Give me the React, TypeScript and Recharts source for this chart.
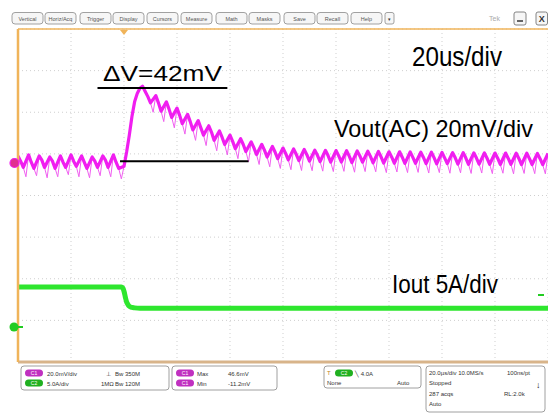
import React from 'react';
import { LineChart, Line, XAxis, YAxis, CartesianGrid, ReferenceLine } from 'recharts';

// Vout (AC), mV from the ch1 ground marker, one sample per microsecond (0..200 us)
const voutMv = [
  3, 0.5, -2.5, -7,
  3.5, 0, -3, -6.5,
  3, 1, -2.5, -7.5,
  2.5, 0.5, -3, -7,
  3, 0, -2.5, -6,
  3.5, 0.5, -2, -7,
  3, 0, -3, -7.5,
  2.5, 0.5, -2.5, -6.5,
  3, 1, -2.5, -7,
  3.5, 0, -3, -8,
  -2, 5, 13, 22, 29, 33, 35.5, 36.5,
  34, 31.5, 28.5, 24,
  32, 28.5, 24.5, 19.5,
  29, 25.5, 21.5, 16.5,
  26, 22.5, 18.5, 13.5,
  23, 19.5, 15.5, 10.5,
  20, 16.5, 13, 8,
  17.5, 14.5, 10.5, 5.5,
  15, 12, 8.5, 3.5,
  13, 10, 6.5, 1.7,
  11.3, 8.5, 5.1, 0.2,
  9.8, 7, 3.7, -1.1,
  8.6, 5.8, 2.5, -2.2,
  7.6, 4.9, 1.7, -3,
  6.8, 4.2, 1.1, -3.6,
  6.4, 3.8, 0.8, -4,
  6.1, 3.6, 0.5, -4.1,
  5.8, 3.3, 0.3, -4.3,
  5.7, 3.2, 0, -4.5,
  5.6, 3.1, 0.1, -4.4,
  5.5, 2.9, -0.2, -4.8,
  5.4, 3, 0, -4.5,
  5.3, 2.8, -0.3, -4.6,
  5.2, 2.6, -0.4, -5,
  5, 2.5, -0.5, -4.7,
  5, 2.4, -0.6, -5,
  4.9, 2.3, -0.5, -4.9,
  4.8, 2.3, -0.7, -5.2,
  4.8, 2.2, -0.8, -5,
  4.7, 2.1, -0.7, -5.3,
  4.6, 2.1, -0.9, -5.1,
  4.6, 2, -1, -5.4,
  4.5, 2, -0.9, -5.2,
  4.5, 1.9, -1, -5.5,
  4.4, 1.9, -1.1, -5.3,
  4.4, 1.8, -1, -5.6,
  4.3, 1.8, -1.2, -5.4,
  4.3, 1.7, -1.1, -5.5,
  4.2, 1.7, -1.2, -5.6,
  4.2,
];

// samples (us) where the thin switching spikes poke out below the ripple band
const spikeTimes = [
  3, 7, 11, 15, 19, 23, 27, 31, 35, 39,
  51, 55, 59, 63, 67, 71, 75, 79, 83, 87, 91, 95, 99, 103, 107, 111, 115, 119,
  123, 127, 131, 135, 139, 143, 147, 151, 155, 159, 163, 167, 171, 175, 179,
  183, 187, 191, 195, 199,
];

// Iout load step, amps
const ioutTimes = [0, 39, 39.5, 40, 40.5, 41, 41.5, 42, 43, 44, 46, 80, 120, 160, 200];
const ioutAmps = [5, 5, 4.9, 4.5, 3.8, 3.2, 2.9, 2.7, 2.55, 2.5, 2.45, 2.45, 2.45, 2.45, 2.45];

// graticule: 10 x 20us horizontally, 8 divisions vertically
const gridTimes = [0, 20, 40, 60, 80, 100, 120, 140, 160, 180, 200];
const gridDivs = [0, 1, 2, 3, 4, 5, 6, 7, 8];
const minorTimes = Array.from({ length: 51 }, (_, i) => i * 4);
const minorDivs = Array.from({ length: 41 }, (_, i) => i * 0.2);

// the two cursor lines drawn for the deltaV note (us, mV)
const deltaTop = { from: 30, to: 79, level: 35.6 };
const deltaBase = { from: 38.5, to: 87, level: 0.5 };

const menuLabels = ['Vertical', 'Horiz/Acq', 'Trigger', 'Display', 'Cursors', 'Measure', 'Math', 'Masks', 'Save', 'Recall', 'Help'];
const menuLefts = [12, 45, 80, 113, 147, 181, 216, 249, 284, 317, 351];

const voutData = voutMv.map((v, i) => ({ t: i, v, band: spikeTimes.includes(i) ? null : v }));
const ioutData = ioutTimes.map((t, i) => ({ t, a: ioutAmps[i] }));

const MAGENTA = '#f01ef0';
const GREEN = '#2ee62e';
const ORANGE = '#f0b45a';
const TAN = '#d8b48a';
const FONT = '"Liberation Sans", Arial, sans-serif';
const NARROW = '"Liberation Sans Narrow", "Liberation Sans", Arial, sans-serif';

const Pill = ({ x, y, color, label }: { x: number; y: number; color: string; label: string }) => (
  <g>
    <rect x={x} y={y} width={18} height={7} rx={3.5} fill={color} />
    <text x={x + 9} y={y + 5.5} fontSize={5} fill="#fff" textAnchor="middle" fontFamily={FONT}>{label}</text>
  </g>
);

const Small = ({ x, y, children }: { x: number; y: number; children: React.ReactNode }) => (
  <text x={x} y={y} fontSize={6} fill="#333" fontFamily={FONT}>{children}</text>
);

const Overlay = () => (
  <svg width={548} height={416} style={{ position: 'absolute', left: 0, top: 0, pointerEvents: 'none' }}>
    {/* menu bar */}
    {menuLabels.map((m, i) => (
      <g key={m}>
        <rect x={menuLefts[i]} y={12.5} width={31} height={11.5} rx={3} fill="#f6f6f6" stroke="#8a8a8a" strokeWidth={0.8} />
        <text x={menuLefts[i] + 15.5} y={20.5} fontSize={5.5} fill="#555" textAnchor="middle" fontFamily={FONT}>{m}</text>
      </g>
    ))}
    <rect x={385} y={12.5} width={9} height={11.5} rx={2} fill="#f6f6f6" stroke="#8a8a8a" strokeWidth={0.8} />
    <text x={389.5} y={20.5} fontSize={5} fill="#333" textAnchor="middle" fontFamily={FONT}>▾</text>
    <text x={489} y={21} fontSize={7} fill="#aaa" fontFamily={FONT}>Tek</text>
    <rect x={514} y={12} width={12} height={13} rx={2} fill="#f6f6f6" stroke="#777" strokeWidth={0.9} />
    <line x1={517} y1={21} x2={523} y2={21} stroke="#333" strokeWidth={1.5} />
    <rect x={536} y={12} width={11.5} height={13} rx={2} fill="#f6f6f6" stroke="#777" strokeWidth={0.9} />
    <text x={541.75} y={22} fontSize={9} fill="#333" textAnchor="middle" fontFamily={FONT} fontWeight="bold">X</text>

    {/* channel and trigger markers */}
    <polygon points="120,30 128,30 124,35" fill={ORANGE} />
    <circle cx={14.5} cy={163} r={4.5} fill="#e0308f" stroke={MAGENTA} strokeWidth={1.2} />
    <circle cx={14} cy={327} r={4.5} fill="#22cc22" />
    <line x1={17} y1={327} x2={23} y2={327} stroke="#22cc22" strokeWidth={2} />
    <line x1={538} y1={295} x2={544} y2={295} stroke="#22cc22" strokeWidth={2} />

    {/* annotations */}
    <text x={103} y={81} fontSize={22} fill="#000" fontFamily={FONT} textLength={119} lengthAdjust="spacingAndGlyphs">ΔV=42mV</text>
    <text x={412} y={66} fontSize={28} fill="#000" fontFamily={NARROW} textLength={90} lengthAdjust="spacingAndGlyphs">20us/div</text>
    <text x={334} y={137} fontSize={24} fill="#000" fontFamily={NARROW} textLength={199} lengthAdjust="spacingAndGlyphs">Vout(AC) 20mV/div</text>
    <text x={392} y={293} fontSize={25} fill="#000" fontFamily={NARROW} textLength={106} lengthAdjust="spacingAndGlyphs">Iout 5A/div</text>

    {/* status bar */}
    <rect x={21} y={366} width={148} height={24} rx={3} fill="#fff" stroke="#888" strokeWidth={0.8} />
    <Pill x={25} y={369.5} color="#c030c0" label="C1" />
    <Small x={47} y={375.5}>20.0mV/div</Small>
    <Small x={106} y={375.5}>⊥</Small>
    <Small x={115} y={375.5}>Bw 350M</Small>
    <Pill x={25} y={379.5} color="#20b020" label="C2" />
    <Small x={47} y={385.5}>5.0A/div</Small>
    <Small x={101} y={385.5}>1MΩ</Small>
    <Small x={115} y={385.5}>Bw 120M</Small>

    <rect x={172} y={366} width={105} height={24} rx={3} fill="#fff" stroke="#888" strokeWidth={0.8} />
    <Pill x={176} y={369.5} color="#c030c0" label="C1" />
    <Small x={197} y={375.5}>Max</Small>
    <Small x={228} y={375.5}>46.6mV</Small>
    <Pill x={176} y={379.5} color="#c030c0" label="C1" />
    <Small x={197} y={385.5}>Min</Small>
    <Small x={228} y={385.5}>-11.2mV</Small>

    <rect x={324} y={366} width={97} height={22} rx={3} fill="#fff" stroke="#888" strokeWidth={0.8} />
    <text x={327} y={375} fontSize={6} fill="#c08020" fontFamily={FONT}>T</text>
    <Pill x={335} y={369.5} color="#20b020" label="C2" />
    <Small x={355} y={375.5}>╲ 4.0A</Small>
    <Small x={327} y={384.5}>None</Small>
    <Small x={397} y={384.5}>Auto</Small>

    <rect x={426} y={366} width={119} height={46} rx={3} fill="#fff" stroke="#888" strokeWidth={0.8} />
    <Small x={429} y={374.5}>20.0µs/div  10.0MS/s</Small>
    <Small x={507} y={374.5}>100ns/pt</Small>
    <Small x={429} y={385}>Stopped</Small>
    <text x={536} y={388} fontSize={9} fill="#222" fontFamily={FONT} fontWeight="bold">↓</text>
    <Small x={429} y={395.5}>287 acqs</Small>
    <Small x={504} y={395.5}>RL:2.0k</Small>
    <Small x={429} y={406}>Auto</Small>
  </svg>
);

export default function App() {
  return (
    <div style={{ position: 'absolute', left: 0, top: 0, width: 548, height: 416, background: '#fff' }}>
      <LineChart width={548} height={416} margin={{ top: 29, right: 0, bottom: 54, left: 18 }}>
        <XAxis xAxisId="main" dataKey="t" type="number" domain={[0, 200]} ticks={gridTimes} allowDataOverflow hide />
        <YAxis yAxisId="grid" type="number" domain={[0, 8]} ticks={gridDivs} allowDataOverflow hide />
        <YAxis yAxisId="v" type="number" domain={[-96, 64]} allowDataOverflow hide />
        <YAxis yAxisId="i" type="number" domain={[-4, 36]} allowDataOverflow hide />
        <CartesianGrid xAxisId="main" yAxisId="grid" stroke="#cfcfcf" strokeDasharray="1 3" />

        <XAxis xAxisId="top" orientation="top" mirror type="number" domain={[0, 200]} ticks={minorTimes} interval={0}
          allowDataOverflow axisLine={{ stroke: ORANGE, strokeWidth: 1.5 }} tickLine={{ stroke: ORANGE }} tickSize={3} tick={false} />
        <XAxis xAxisId="bot" orientation="bottom" mirror type="number" domain={[0, 200]} ticks={minorTimes} interval={0}
          allowDataOverflow axisLine={{ stroke: TAN, strokeWidth: 3 }} tickLine={{ stroke: TAN }} tickSize={4} tick={false} />
        <YAxis yAxisId="frame" orientation="left" mirror type="number" domain={[0, 8]} ticks={minorDivs} interval={0}
          allowDataOverflow axisLine={{ stroke: ORANGE, strokeWidth: 2.5 }} tickLine={{ stroke: ORANGE }} tickSize={3} tick={false} />

        <Line xAxisId="main" yAxisId="i" data={ioutData} dataKey="a" type="monotone" stroke={GREEN} strokeWidth={5}
          dot={false} isAnimationActive={false} />
        <Line xAxisId="main" yAxisId="v" data={voutData} dataKey="v" type="linear" stroke="#f060f0" strokeWidth={1}
          dot={false} isAnimationActive={false} />
        <Line xAxisId="main" yAxisId="v" data={voutData} dataKey="band" type="linear" connectNulls stroke={MAGENTA}
          strokeWidth={3.2} strokeLinejoin="round" dot={false} isAnimationActive={false} />

        <ReferenceLine xAxisId="main" yAxisId="v" segment={[{ x: deltaTop.from, y: deltaTop.level }, { x: deltaTop.to, y: deltaTop.level }]}
          stroke="#000" strokeWidth={2} />
        <ReferenceLine xAxisId="main" yAxisId="v" segment={[{ x: deltaBase.from, y: deltaBase.level }, { x: deltaBase.to, y: deltaBase.level }]}
          stroke="#000" strokeWidth={2} />
      </LineChart>
      <Overlay />
    </div>
  );
}
